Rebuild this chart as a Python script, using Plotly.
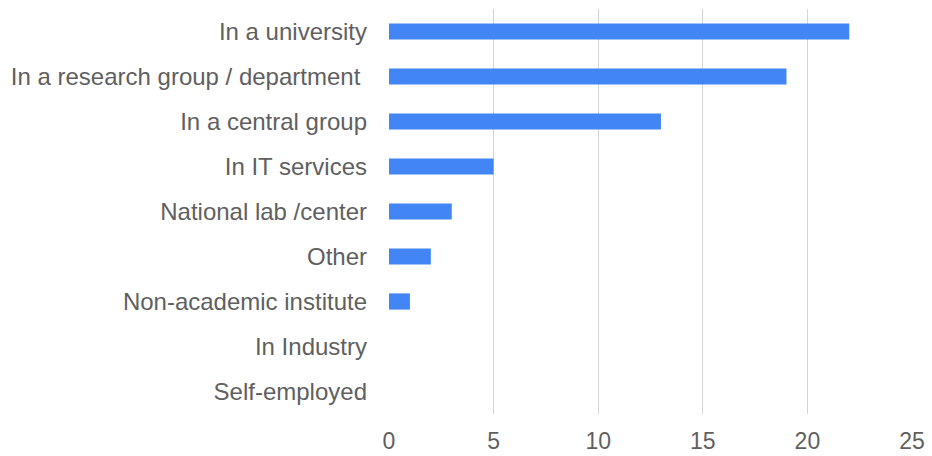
import plotly.graph_objects as go

# Survey answers: where respondents are employed
categories = [
    "In a university",
    "In a research group / department\u00a0",
    "In a central group",
    "In IT services",
    "National lab /center",
    "Other",
    "Non-academic institute",
    "In Industry",
    "Self-employed",
]
counts = [22, 19, 13, 5, 3, 2, 1, 0, 0]
x_ticks = [0, 5, 10, 15, 20, 25]

BAR_COLOR = "#4285f4"
TEXT_COLOR = "#5f5f5f"
GRID_COLOR = "#d4d4d4"
FONT = "Liberation Sans, Arial, sans-serif"

fig = go.Figure(
    go.Bar(
        x=counts,
        y=categories,
        orientation="h",
        marker=dict(color=BAR_COLOR, line=dict(width=0)),
        width=0.36,
        hoverinfo="x+y",
    )
)

fig.update_layout(
    width=932,
    height=456,
    margin=dict(l=389, r=20, t=9, b=42),
    plot_bgcolor="white",
    paper_bgcolor="white",
    showlegend=False,
    font=dict(family=FONT, size=22, color=TEXT_COLOR),
)

fig.update_xaxes(
    range=[0, 25],
    tickvals=x_ticks,
    ticktext=[str(v) for v in x_ticks],
    showgrid=True,
    gridcolor=GRID_COLOR,
    gridwidth=1,
    zeroline=False,
    showline=False,
    ticks="",
    automargin=False,
    ticklabelstandoff=11,
    tickfont=dict(family=FONT, size=23, color=TEXT_COLOR),
)

fig.update_yaxes(
    categoryorder="array",
    categoryarray=categories,
    autorange="reversed",
    showgrid=False,
    zeroline=False,
    showline=False,
    ticks="",
    automargin=False,
    ticklabelstandoff=21,
    tickfont=dict(family=FONT, size=24, color=TEXT_COLOR),
)

fig.write_html("out.html")
